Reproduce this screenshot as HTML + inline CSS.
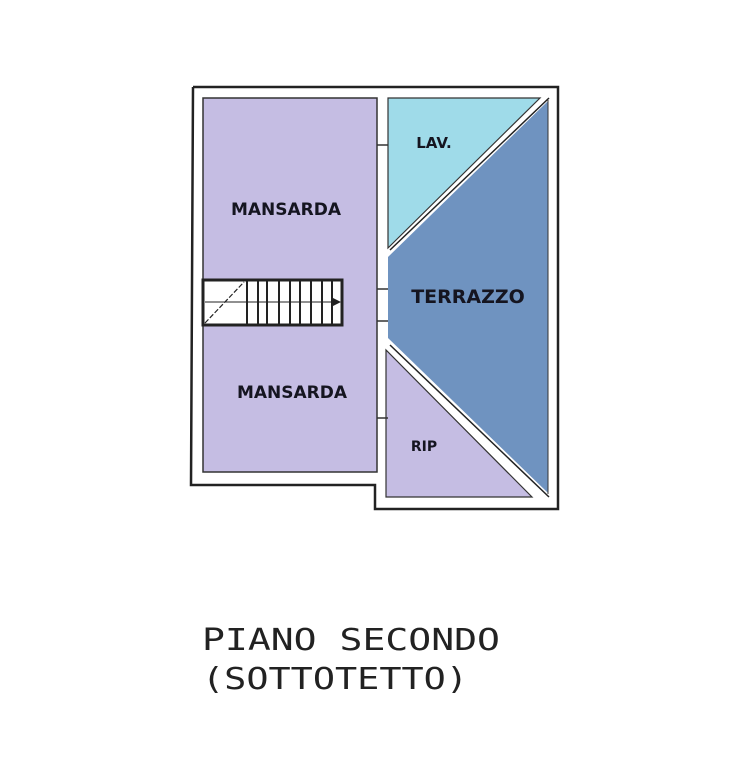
<!DOCTYPE html>
<html><head><style>
body{margin:0;background:#fff;}
svg{display:block}
</style></head><body>
<svg width="736" height="777" viewBox="0 0 736 777" xmlns="http://www.w3.org/2000/svg">
<polyline points="193,87 558,87 558,509 375,509 375,485 191,485 193,87" fill="none" stroke="#222" stroke-width="2.5"/>
<rect x="203" y="98" width="174" height="374" fill="#c5bde3" stroke="#333" stroke-width="1.5"/>
<polygon points="388,98 540,98 388,248" fill="#9fdbe9" stroke="#333" stroke-width="1.2"/>
<polygon points="388,257 548,101 548,493 388,338" fill="#6f93c0"/>
<line x1="390" y1="250" x2="549" y2="98" stroke="#222" stroke-width="1.5"/>
<line x1="390" y1="345" x2="549" y2="497" stroke="#222" stroke-width="1.5"/>
<line x1="548" y1="100" x2="548" y2="494" stroke="#333" stroke-width="1"/>
<polygon points="386,350 386,497 532,497" fill="#c5bde3" stroke="#333" stroke-width="1.2"/>
<g stroke="#333" stroke-width="1.5">
<line x1="377" y1="145" x2="388" y2="145"/>
<line x1="377" y1="289" x2="388" y2="289"/>
<line x1="377" y1="321" x2="388" y2="321"/>
<line x1="377" y1="418" x2="388" y2="418"/>
</g>
<rect x="203" y="280" width="139" height="45" fill="#fff" stroke="#222" stroke-width="3"/>
<g stroke="#222" stroke-width="2">
<line x1="205" y1="302" x2="340" y2="302" stroke-width="1"/>
<line x1="205" y1="323" x2="244" y2="282" stroke-width="1.2" stroke-dasharray="5,2"/>
<line x1="247" y1="281" x2="247" y2="324"/>
<line x1="258" y1="281" x2="258" y2="324"/>
<line x1="267" y1="281" x2="267" y2="324"/>
<line x1="279" y1="281" x2="279" y2="324"/>
<line x1="290" y1="281" x2="290" y2="324"/>
<line x1="300" y1="281" x2="300" y2="324"/>
<line x1="311" y1="281" x2="311" y2="324"/>
<line x1="322" y1="281" x2="322" y2="324"/>
<line x1="332" y1="281" x2="332" y2="324"/>
</g>
<polygon points="333,298 341,302 333,306" fill="#222"/>
<g font-family="DejaVu Sans, sans-serif" font-weight="bold" fill="#151520" text-anchor="middle">
<text x="286" y="215" font-size="17">MANSARDA</text>
<text x="292" y="398" font-size="17">MANSARDA</text>
<text x="434" y="148" font-size="15">LAV.</text>
<text x="468" y="303" font-size="19">TERRAZZO</text>
<text x="424" y="451" font-size="14">RIP</text>
</g>
<g font-family="DejaVu Sans Mono, monospace" fill="#222" font-size="30">
<text x="202" y="650" textLength="298" lengthAdjust="spacingAndGlyphs">PIANO SECONDO</text>
<text x="202" y="689" textLength="266" lengthAdjust="spacingAndGlyphs">(SOTTOTETTO)</text>
</g>
</svg>
</body></html>
